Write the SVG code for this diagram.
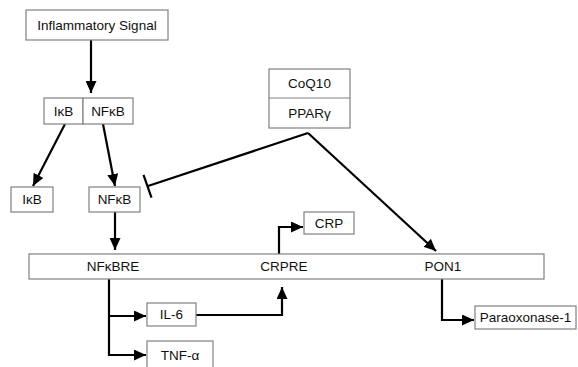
<svg xmlns="http://www.w3.org/2000/svg" width="578" height="367" viewBox="0 0 578 367">
  <style>
    .box { fill: #ffffff; stroke: #808080; stroke-width: 1.2; }
    .lbl { font-family: "Liberation Sans", Arial, sans-serif; font-size: 13.5px; fill: #111111; text-anchor: middle; }
    .edge { fill: none; stroke: #000000; stroke-width: 2.2; }
  </style>
  <defs>
    <marker id="arrow" markerUnits="userSpaceOnUse" viewBox="0 0 12 11" refX="12" refY="5.5" markerWidth="12" markerHeight="11" orient="auto">
      <path d="M0,0 L12,5.5 L0,11 z" fill="#000000"/>
    </marker>
  </defs>

  <rect width="578" height="367" fill="#ffffff"/>

  <!-- connectors -->
  <g id="connectors">
    <path class="edge" d="M91,40 V93" marker-end="url(#arrow)"/>
    <path class="edge" d="M65,124 L33,186" marker-end="url(#arrow)"/>
    <path class="edge" d="M103,124 L115,186" marker-end="url(#arrow)"/>
    <path class="edge" d="M115,212 V250" marker-end="url(#arrow)"/>
    <!-- inhibition of NFkB -->
    <path class="edge" d="M308,133 L148,186"/>
    <path class="edge" d="M143.5,174.8 L151.5,197.6"/>
    <path class="edge" d="M308,133 L436,251" marker-end="url(#arrow)"/>
    <!-- NFkBRE targets -->
    <path class="edge" d="M109,279 V355 H146" marker-end="url(#arrow)"/>
    <path class="edge" d="M109,316 H146" marker-end="url(#arrow)"/>
    <!-- IL-6 to CRPRE -->
    <path class="edge" d="M196,315 H282 V287" marker-end="url(#arrow)"/>
    <!-- CRPRE to CRP -->
    <path class="edge" d="M279,254 V227 H303" marker-end="url(#arrow)"/>
    <!-- PON1 to Paraoxonase-1 -->
    <path class="edge" d="M442,279 V320 H474" marker-end="url(#arrow)"/>
  </g>

  <g id="inflammatory-signal">
    <rect class="box" x="26" y="10" width="142" height="30"/>
    <text class="lbl" x="97" y="29.5">Inflammatory Signal</text>
  </g>

  <g id="ikb-complex">
    <rect class="box" x="44" y="98" width="39" height="26"/>
    <text class="lbl" x="63.5" y="115.5">IκB</text>
  </g>
  <g id="nfkb-complex">
    <rect class="box" x="83" y="98" width="50" height="26"/>
    <text class="lbl" x="108" y="115.5">NFκB</text>
  </g>

  <g id="ikb">
    <rect class="box" x="11" y="187" width="42" height="25"/>
    <text class="lbl" x="32" y="204">IκB</text>
  </g>
  <g id="nfkb">
    <rect class="box" x="89" y="187" width="51" height="25"/>
    <text class="lbl" x="114.5" y="204">NFκB</text>
  </g>

  <g id="coq10-ppar">
    <rect class="box" x="269" y="69" width="81" height="59"/>
    <line x1="269" y1="98" x2="350" y2="98" stroke="#808080" stroke-width="1.2"/>
    <text class="lbl" x="309.5" y="88">CoQ10</text>
    <text class="lbl" x="309.5" y="117.5">PPARγ</text>
  </g>

  <g id="promoter">
    <rect class="box" x="29" y="254" width="515" height="25"/>
    <text class="lbl" x="113" y="271">NFκBRE</text>
    <text class="lbl" x="284" y="271">CRPRE</text>
    <text class="lbl" x="443" y="271">PON1</text>
  </g>

  <g id="crp">
    <rect class="box" x="304" y="212" width="50" height="22"/>
    <text class="lbl" x="329" y="227.5">CRP</text>
  </g>

  <g id="il6">
    <rect class="box" x="147" y="303" width="49" height="23"/>
    <text class="lbl" x="171.5" y="319">IL-6</text>
  </g>

  <g id="tnfa">
    <rect class="box" x="147" y="341" width="66" height="36"/>
    <text class="lbl" x="180" y="359.5">TNF-α</text>
  </g>

  <g id="paraoxonase">
    <rect class="box" x="475" y="306" width="101" height="23"/>
    <text class="lbl" x="525.5" y="322">Paraoxonase-1</text>
  </g>
</svg>
